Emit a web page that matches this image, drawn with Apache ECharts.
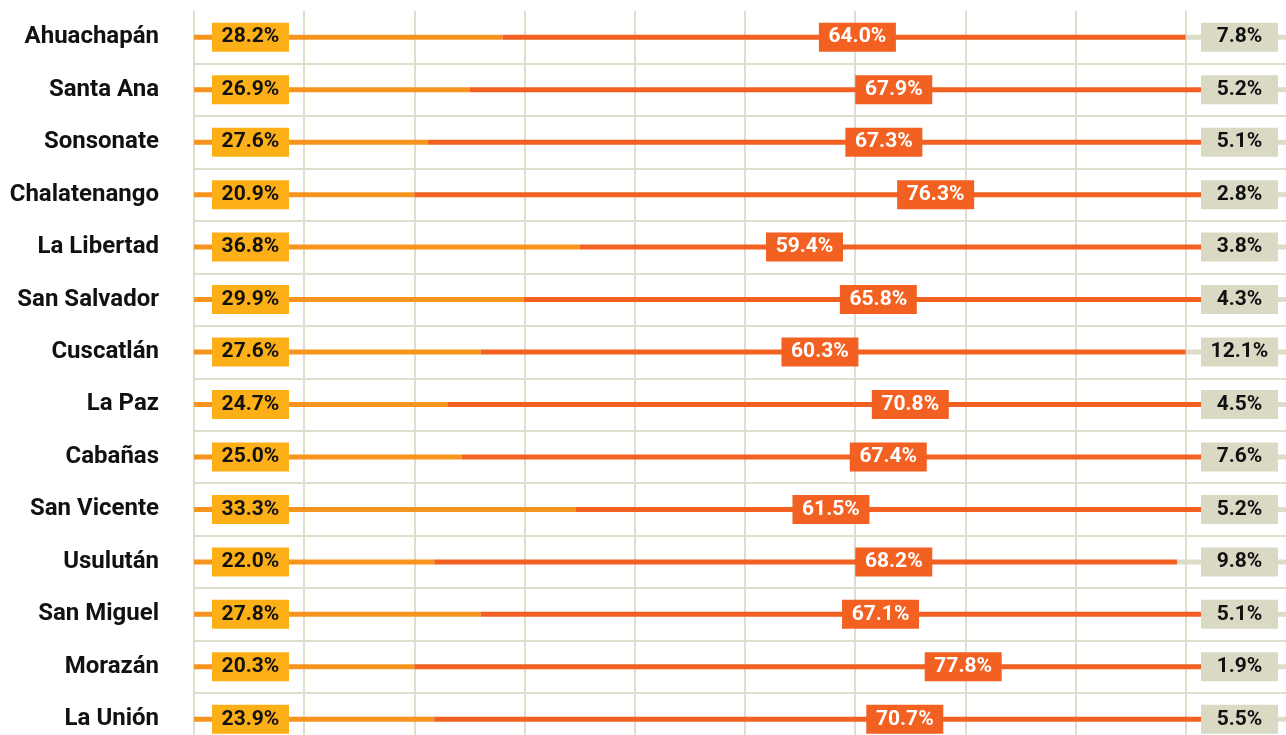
<!DOCTYPE html>
<html>
  <head>
    <meta charset="utf-8" />
    <title>ECharts</title>
    <script src="https://cdn.jsdelivr.net/npm/echarts@6/dist/echarts.min.js"></script>
    <style>
      html, body { margin: 0; padding: 0; background: #fff; }
    </style>
  </head>

  <body>
    <div id="main" style="width: 1286px; height: 735px"></div>
    <script type="text/javascript">
      var myChart = echarts.init(document.getElementById("main"));

      const regions = [
        "Ahuachapán", "Santa Ana", "Sonsonate", "Chalatenango", "La Libertad",
        "San Salvador", "Cuscatlán", "La Paz", "Cabañas", "San Vicente",
        "Usulután", "San Miguel", "Morazán", "La Unión"
      ];

      // percentages printed in the boxes
      const shareLow = [28.2, 26.9, 27.6, 20.9, 36.8, 29.9, 27.6, 24.7, 25.0, 33.3, 22.0, 27.8, 20.3, 23.9];
      const shareMid = [64.0, 67.9, 67.3, 76.3, 59.4, 65.8, 60.3, 70.8, 67.4, 61.5, 68.2, 67.1, 77.8, 70.7];
      const shareHigh = [7.8, 5.2, 5.1, 2.8, 3.8, 4.3, 12.1, 4.5, 7.6, 5.2, 9.8, 5.1, 1.9, 5.5];

      // segment lengths as drawn in the picture (axis units)
      const barLow = [28.0, 25.0, 21.2, 20.0, 35.0, 29.9, 26.0, 23.0, 24.3, 34.6, 21.8, 26.0, 20.0, 21.8];
      const barMid = [62.0, 69.8, 73.7, 77.2, 61.2, 65.8, 64.0, 72.5, 68.1, 60.2, 67.4, 68.9, 78.1, 72.8];
      const barHigh = [10.0, 5.2, 5.1, 2.8, 3.8, 4.3, 10.0, 4.5, 7.6, 5.2, 10.8, 5.1, 1.9, 5.4];

      // where the middle box sits along the axis
      const midLabelAt = [60.2, 63.5, 62.6, 67.3, 55.4, 62.1, 56.8, 65.0, 63.0, 57.8, 63.5, 62.3, 69.8, 64.5];

      const font = "Roboto";

      function boxLabel(values, bg, fg, pos) {
        return {
          show: true,
          position: pos,
          distance: 18,
          formatter: (p) => "{v|" + values[p.dataIndex].toFixed(1) + "%}",
          backgroundColor: bg,
          padding: [4, 9],
          rich: {
            v: {
              width: 59,
              align: "center",
              fontFamily: font,
              fontWeight: "bold",
              fontSize: 21,
              lineHeight: 21,
              color: fg,
            },
          },
        };
      }

      option = {
        animation: false,
        grid: {
          left: 194,
          right: -10,
          top: 11,
          bottom: -10.5,
          containLabel: false,
          outerBoundsMode: "none",
        },
        xAxis: {
          type: "value",
          min: 0,
          max: 100,
          interval: 10,
          axisLabel: { show: false },
          axisLine: { show: false },
          axisTick: { show: false },
          splitLine: { lineStyle: { color: "#dedecd", width: 2 } },
        },
        yAxis: {
          type: "category",
          data: regions,
          inverse: true,
          axisLine: { show: false },
          axisTick: { show: false },
          axisLabel: {
            margin: 35,
            fontFamily: font,
            fontWeight: "bold",
            fontSize: 24,
            color: "#111",
          },
          splitLine: {
            show: true,
            showMinLine: false,
            lineStyle: { color: "#dedecd", width: 2 },
          },
        },
        series: [
          {
            type: "bar",
            stack: "total",
            barWidth: 5,
            data: barLow,
            itemStyle: { color: "#f7941d" },
            label: boxLabel(shareLow, "#fcaf17", "#111", "insideLeft"),
          },
          {
            type: "bar",
            stack: "total",
            barWidth: 5,
            data: barMid,
            itemStyle: { color: "#f26122" },
          },
          {
            type: "bar",
            stack: "total",
            barWidth: 5,
            data: barHigh,
            itemStyle: { color: "#dcdcc8" },
            label: boxLabel(shareHigh, "#d9d9c4", "#111", "insideRight"),
          },
          {
            type: "scatter",
            symbol: "rect",
            symbolSize: 1,
            itemStyle: { color: "rgba(0,0,0,0)", opacity: 1 },
            data: midLabelAt.map((v, i) => [v, regions[i]]),
            label: Object.assign(boxLabel(shareMid, "#f26122", "#fff", "inside"), { distance: 0 }),
            z: 5,
          },
        ],
      };

      myChart.setOption(option);
    </script>
  </body>
</html>
